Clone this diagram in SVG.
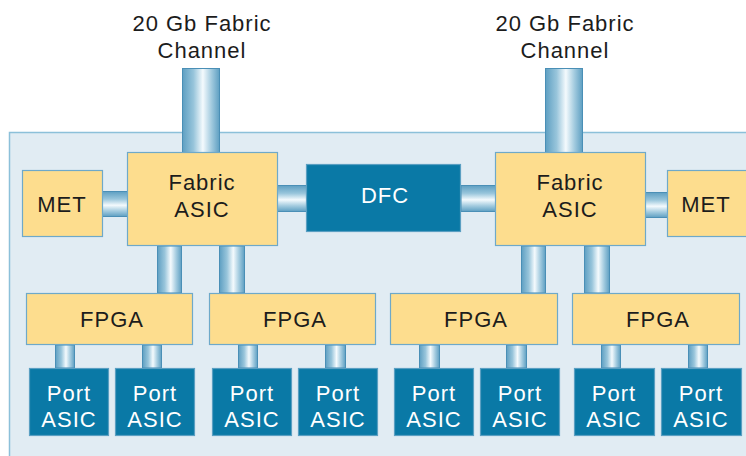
<svg xmlns="http://www.w3.org/2000/svg" width="746" height="456" viewBox="0 0 746 456">
<defs>
<linearGradient id="gv" x1="0" y1="0" x2="1" y2="0">
<stop offset="0" stop-color="#5e9fc2"/>
<stop offset="0.3" stop-color="#98c5db"/>
<stop offset="0.55" stop-color="#f4fafd"/>
<stop offset="0.78" stop-color="#a3cbdf"/>
<stop offset="1" stop-color="#5e9fc2"/>
</linearGradient>
<linearGradient id="gh" x1="0" y1="0" x2="0" y2="1">
<stop offset="0" stop-color="#5e9fc2"/>
<stop offset="0.3" stop-color="#98c5db"/>
<stop offset="0.55" stop-color="#f4fafd"/>
<stop offset="0.78" stop-color="#a3cbdf"/>
<stop offset="1" stop-color="#5e9fc2"/>
</linearGradient>
<style>
.t{font-family:"Liberation Sans",Arial,sans-serif;font-size:22px;text-anchor:middle;letter-spacing:1px}
.dk{fill:#1c1c1c}
.wh{fill:#ffffff}
.y{fill:#fddd8e;stroke:#6ea9c9;stroke-width:1.2}
.b{fill:#0a79a6;stroke:#5a9fc2;stroke-width:1.2}
.pv{fill:url(#gv);stroke:#4a8fb6;stroke-width:1}
.ph{fill:url(#gh);stroke:#4a8fb6;stroke-width:1}
</style>
</defs>
<rect x="0" y="0" width="746" height="456" fill="#ffffff"/>
<rect id="panel" x="9.5" y="132.5" width="750" height="340" fill="#e1ecf3" stroke="#8cc0d9" stroke-width="1.5"/>
<g id="labels">
<text class="t dk" x="202" y="31">20 Gb Fabric</text>
<text class="t dk" x="202" y="58">Channel</text>
<text class="t dk" x="565" y="31">20 Gb Fabric</text>
<text class="t dk" x="565" y="58">Channel</text>
</g>
<g id="connectors">
<rect class="pv" x="182.5" y="68.5" width="37" height="84"/>
<rect class="pv" x="545.5" y="68.5" width="37" height="84"/>
<rect class="ph" x="102" y="191.5" width="26" height="25"/>
<rect class="ph" x="277" y="185.5" width="30" height="26"/>
<rect class="ph" x="461" y="185.5" width="35" height="26"/>
<rect class="ph" x="645" y="192.5" width="23" height="25"/>
<rect class="pv" x="157.5" y="246" width="24" height="47"/>
<rect class="pv" x="219.5" y="246" width="25" height="47"/>
<rect class="pv" x="521.5" y="246" width="24" height="47"/>
<rect class="pv" x="584.5" y="246" width="25" height="47"/>
<rect class="pv" x="55.5" y="345" width="19" height="23"/>
<rect class="pv" x="142.5" y="345" width="19" height="23"/>
<rect class="pv" x="238.5" y="345" width="19" height="23"/>
<rect class="pv" x="325.5" y="345" width="20" height="23"/>
<rect class="pv" x="419.5" y="345" width="20" height="23"/>
<rect class="pv" x="506.5" y="345" width="20" height="23"/>
<rect class="pv" x="601.5" y="345" width="19" height="23"/>
<rect class="pv" x="688.5" y="345" width="19" height="23"/>
</g>
<g id="met-left"><rect class="y" x="22.5" y="170.5" width="80" height="66"/><text class="t dk" x="62" y="212">MET</text></g>
<g id="fabric-left"><rect class="y" x="127.5" y="152.5" width="150" height="93"/><text class="t dk" x="202" y="190">Fabric</text><text class="t dk" x="202" y="217">ASIC</text></g>
<g id="dfc"><rect class="b" x="306.5" y="164.5" width="154" height="67"/><text class="t wh" x="385" y="203">DFC</text></g>
<g id="fabric-right"><rect class="y" x="495.5" y="152.5" width="150" height="93"/><text class="t dk" x="570" y="190">Fabric</text><text class="t dk" x="570" y="217">ASIC</text></g>
<g id="met-right"><rect class="y" x="667.5" y="170.5" width="90" height="66"/><text class="t dk" x="706" y="212">MET</text></g>
<g id="fpga1"><rect class="y" x="26.5" y="293.5" width="166" height="51"/><text class="t dk" x="112" y="327">FPGA</text></g>
<g id="fpga2"><rect class="y" x="209.5" y="293.5" width="166" height="51"/><text class="t dk" x="295" y="327">FPGA</text></g>
<g id="fpga3"><rect class="y" x="390.5" y="293.5" width="167" height="51"/><text class="t dk" x="476" y="327">FPGA</text></g>
<g id="fpga4"><rect class="y" x="572.5" y="293.5" width="167" height="51"/><text class="t dk" x="658" y="327">FPGA</text></g>
<g id="port1"><rect class="b" x="29.5" y="368.5" width="79" height="67"/><text class="t wh" x="69" y="401">Port</text><text class="t wh" x="69" y="427">ASIC</text></g>
<g id="port2"><rect class="b" x="115.5" y="368.5" width="79" height="67"/><text class="t wh" x="155" y="401">Port</text><text class="t wh" x="155" y="427">ASIC</text></g>
<g id="port3"><rect class="b" x="212.5" y="368.5" width="79" height="67"/><text class="t wh" x="252" y="401">Port</text><text class="t wh" x="252" y="427">ASIC</text></g>
<g id="port4"><rect class="b" x="298.5" y="368.5" width="79" height="67"/><text class="t wh" x="338" y="401">Port</text><text class="t wh" x="338" y="427">ASIC</text></g>
<g id="port5"><rect class="b" x="394.5" y="368.5" width="79" height="67"/><text class="t wh" x="434" y="401">Port</text><text class="t wh" x="434" y="427">ASIC</text></g>
<g id="port6"><rect class="b" x="480.5" y="368.5" width="79" height="67"/><text class="t wh" x="520" y="401">Port</text><text class="t wh" x="520" y="427">ASIC</text></g>
<g id="port7"><rect class="b" x="574.5" y="368.5" width="80" height="67"/><text class="t wh" x="614" y="401">Port</text><text class="t wh" x="614" y="427">ASIC</text></g>
<g id="port8"><rect class="b" x="661.5" y="368.5" width="80" height="67"/><text class="t wh" x="701" y="401">Port</text><text class="t wh" x="701" y="427">ASIC</text></g>
</svg>
